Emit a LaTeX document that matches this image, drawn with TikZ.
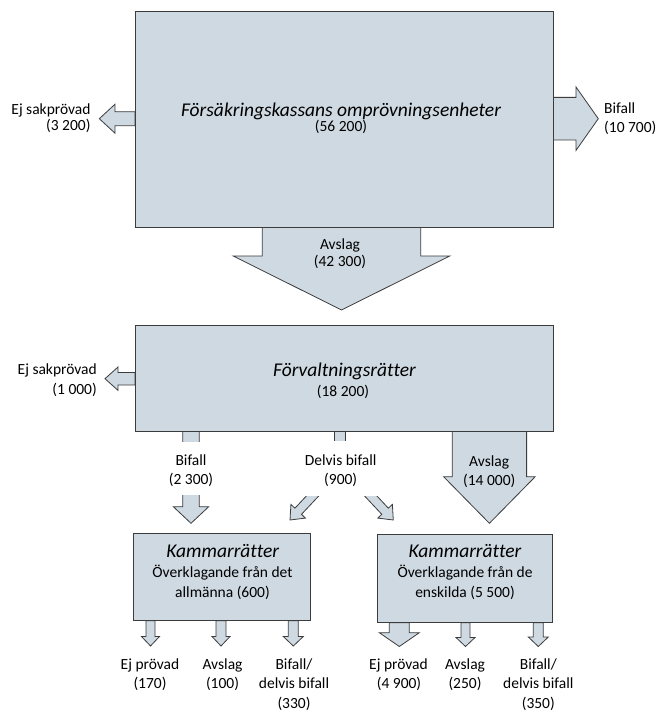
\documentclass[tikz,border=0pt]{standalone}
\usepackage{fontspec}
\setmainfont{Carlito}[Ligatures=CommonOff]
\usetikzlibrary{calc}
\definecolor{boxfill}{RGB}{206,217,226}
\definecolor{boxline}{RGB}{60,60,60}
% #1 start, #2 tip, #3 shaft half width, #4 head half width, #5 head length
\newcommand\blockarrow[5]{%
  \coordinate (ba-b) at ($(#2)!#5!(#1)$);
  \filldraw[blk] ($(#1)!#3!90:(#2)$) -- ($(ba-b)!#3!90:(#2)$) -- ($(ba-b)!#4!90:(#2)$) -- (#2)
    -- ($(ba-b)!#4!-90:(#2)$) -- ($(ba-b)!#3!-90:(#2)$) -- ($(#1)!#3!-90:(#2)$) -- cycle;
}
\begin{document}
\begin{tikzpicture}[x=1pt,y=-1pt,
  blk/.style={fill=boxfill,draw=boxline,line width=0.8pt,line join=miter},
  box/.style={blk,rectangle,inner sep=0pt},
  lbl/.style={font=\fontsize{15.5}{19}\selectfont,inner sep=0pt},
  ttl/.style={font=\fontsize{19.5}{23}\selectfont\itshape,inner sep=0pt},
  cover/.style={fill=white,draw=none}]
\useasboundingbox (0,0) rectangle (658,711);

% ---- arrows of the top box
\coordinate (s1) at (135,118.7);   \coordinate (t1) at (99.3,118.7);
\blockarrow{s1}{t1}{7pt}{14.5pt}{15.7pt}
\coordinate (s2) at (553,118.7);   \coordinate (t2) at (598.3,118.7);
\blockarrow{s2}{t2}{21.3pt}{31.7pt}{22.3pt}
\coordinate (s3) at (341.5,227);   \coordinate (t3) at (341.5,310);
\blockarrow{s3}{t3}{79.2pt}{108.3pt}{54pt}

% ---- arrows of Förvaltningsrätter
\coordinate (s4) at (135,378.7);   \coordinate (t4) at (105,378.7);
\blockarrow{s4}{t4}{6.3pt}{11.7pt}{13pt}
\coordinate (s5) at (191,431);     \coordinate (t5) at (191,523.3);
\blockarrow{s5}{t5}{8.3pt}{17.7pt}{16.6pt}
\filldraw[blk] (334.3,431) rectangle (345.7,452);
\coordinate (s7) at (320.8,487.2); \coordinate (t7) at (290,520);
\blockarrow{s7}{t7}{4.5pt}{10pt}{12pt}
\coordinate (s8) at (362.5,487.2); \coordinate (t8) at (393.3,520);
\blockarrow{s8}{t8}{4.5pt}{10pt}{12pt}
\coordinate (s9) at (489.4,431);   \coordinate (t9) at (489.4,523.3);
\blockarrow{s9}{t9}{37.2pt}{45.8pt}{46.6pt}

% ---- arrows of the Kammarrätter
\coordinate (sa) at (150.5,620.7); \coordinate (ta) at (150.5,646);
\blockarrow{sa}{ta}{4.5pt}{9pt}{9.5pt}
\coordinate (sb) at (221,620.7);   \coordinate (tb) at (221,646);
\blockarrow{sb}{tb}{5pt}{9pt}{9.5pt}
\coordinate (sc) at (293.3,620.7); \coordinate (tc) at (293.3,646);
\blockarrow{sc}{tc}{5pt}{10pt}{9.5pt}
\coordinate (sd) at (399.3,622.7); \coordinate (td) at (399.3,646.5);
\blockarrow{sd}{td}{10pt}{20pt}{13.8pt}
\coordinate (se) at (465.5,622.7); \coordinate (te) at (465.5,646.5);
\blockarrow{se}{te}{4.5pt}{9.5pt}{9pt}
\coordinate (sf) at (538.3,622.7); \coordinate (tf) at (538.3,646.5);
\blockarrow{sf}{tf}{5pt}{10pt}{9.5pt}

% ---- boxes
\node[box,minimum width=418pt,minimum height=216pt] (fk) at (344,119) {};
\node[box,minimum width=418pt,minimum height=106pt] (fr) at (344,378) {};
\node[box,minimum width=177.4pt,minimum height=87.4pt] (kl) at (222,577) {};
\node[box,minimum width=175.4pt,minimum height=88.7pt] (kr) at (465,578.35) {};

% ---- white gaps for labels on arrows
\fill[cover] (165,441.7) rectangle (217,495);
\fill[cover] (285,440.7) rectangle (398,496);

% ---- texts
\node[ttl,anchor=base] (fk-t) at (341,117) {Försäkringskassans omprövningsenheter};
\node[lbl,anchor=base] (fk-n) at (341,132) {(56 200)};
\node[lbl,anchor=base east] (l1a) at (90.7,115) {Ej sakprövad};
\node[lbl,anchor=base east] (l1b) at (90.7,131) {(3 200)};
\node[lbl,anchor=base west] (l2a) at (604,113.3) {Bifall};
\node[lbl,anchor=base west] (l2b) at (604,132.7) {(10 700)};
\node[lbl,anchor=base] (l3a) at (340,249) {Avslag};
\node[lbl,anchor=base] (l3b) at (340,266.7) {(42 300)};

\node[ttl,anchor=base] (fr-t) at (344.5,376.7) {Förvaltningsrätter};
\node[lbl,anchor=base] (fr-n) at (343,396) {(18 200)};
\node[lbl,anchor=base east] (l4a) at (97,374) {Ej sakprövad};
\node[lbl,anchor=base east] (l4b) at (97,394) {(1 000)};
\node[lbl,anchor=base] (l5a) at (191,465.7) {Bifall};
\node[lbl,anchor=base] (l5b) at (191,484) {(2 300)};
\node[lbl,anchor=base] (l6a) at (340.7,465.7) {Delvis bifall};
\node[lbl,anchor=base] (l6b) at (340.7,484) {(900)};
\node[lbl,anchor=base] (l9a) at (489.2,466.7) {Avslag};
\node[lbl,anchor=base] (l9b) at (489.2,485) {(14 000)};

\node[ttl,anchor=base] (kl-t) at (222.8,557) {Kammarrätter};
\node[lbl,anchor=base] (kl-a) at (222.5,577) {Överklagande från det};
\node[lbl,anchor=base] (kl-b) at (222.5,597) {allmänna (600)};
\node[ttl,anchor=base] (kr-t) at (465,557) {Kammarrätter};
\node[lbl,anchor=base] (kr-a) at (465,577) {Överklagande från de};
\node[lbl,anchor=base] (kr-b) at (465,597) {enskilda (5 500)};

\node[lbl,anchor=base] (la1) at (150,669) {Ej prövad};
\node[lbl,anchor=base] (la2) at (150,688.5) {(170)};
\node[lbl,anchor=base] (lb1) at (222.5,669) {Avslag};
\node[lbl,anchor=base] (lb2) at (222.5,688.5) {(100)};
\node[lbl,anchor=base] (lc1) at (294,669) {Bifall/};
\node[lbl,anchor=base] (lc2) at (294,688.5) {delvis bifall};
\node[lbl,anchor=base] (lc3) at (294,708) {(330)};
\node[lbl,anchor=base] (ld1) at (398.5,669) {Ej prövad};
\node[lbl,anchor=base] (ld2) at (399,688.5) {(4 900)};
\node[lbl,anchor=base] (le1) at (465,669) {Avslag};
\node[lbl,anchor=base] (le2) at (465,688.5) {(250)};
\node[lbl,anchor=base] (lf1) at (538.3,669) {Bifall/};
\node[lbl,anchor=base] (lf2) at (538.3,688.5) {delvis bifall};
\node[lbl,anchor=base] (lf3) at (538.3,708) {(350)};
\end{tikzpicture}
\end{document}
